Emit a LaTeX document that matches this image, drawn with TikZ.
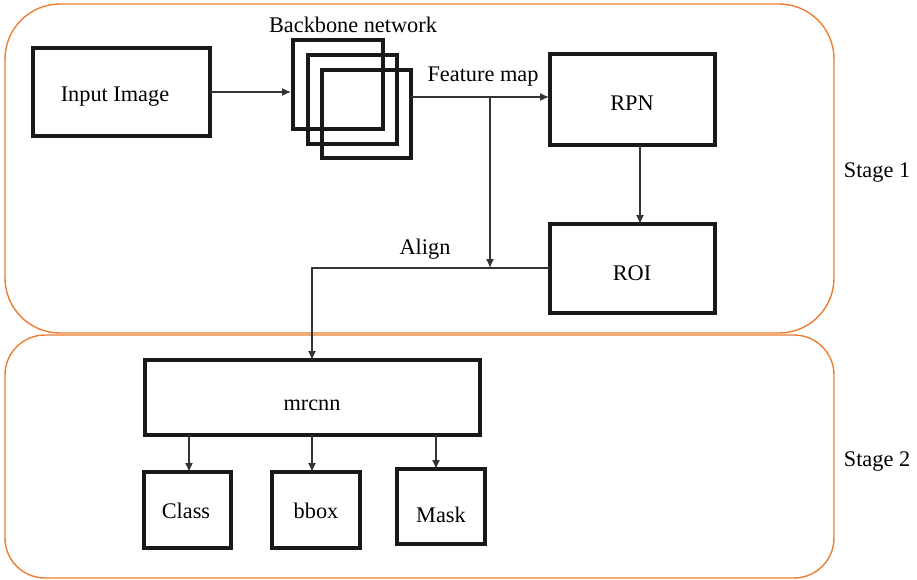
\documentclass[tikz,border=0pt]{standalone}
\usepackage{fontspec}
\setmainfont{Liberation Serif}
\usetikzlibrary{arrows.meta}
\begin{document}
\begin{tikzpicture}[x=1pt,y=-1pt,
  font=\fontsize{22.3}{25}\selectfont,
  stagebox/.style={line width=1.4pt},
  block/.style={draw=black!90, line width=3.1pt, inner sep=0pt},
  conn/.style={draw=black!80, line width=1.4pt},
  arr/.style={conn, -{Latex[length=9pt,width=8pt]}},
  lbl/.style={inner sep=0pt}]
\useasboundingbox (0,0) rectangle (917,580);
\definecolor{stageorange}{RGB}{237,125,49}
% stage frames
\draw[stagebox, draw=stageorange, rounded corners=55pt] (5,4) rectangle (834,333);
\draw[stagebox, draw=stageorange, rounded corners=40pt] (5,335) rectangle (834,578);
% input image
\draw[block] (33,48) rectangle (210,136);
\node[lbl] (inp) at (115,97) {Input Image};
\coordinate (inpE) at (210,92);
% backbone network: three stacked feature squares
\draw[block] (293,40) rectangle (383,129);
\draw[block] (308,55) rectangle (397,144);
\draw[block] (322,70) rectangle (411,158);
\coordinate (bbW) at (291,92);
\coordinate (bbE) at (411,97);
\node[lbl] at (353,25) {Backbone network};
% RPN and ROI
\draw[block] (550,54) rectangle (715,145);
\node[lbl] (rpn) at (632,103) {RPN};
\coordinate (rpnW) at (549,97);
\coordinate (rpnS) at (640,145);
\draw[block] (550,224) rectangle (715,313);
\node[lbl] (roi) at (632,273) {ROI};
\coordinate (roiN) at (640,224);
\coordinate (roiW) at (550,268);
% mrcnn head and outputs
\draw[block] (145,360) rectangle (480,435);
\node[lbl] (mrc) at (312,405) {mrcnn};
\coordinate (mrcN) at (312,360);
\draw[block] (144,472) rectangle (231,548);
\node[lbl] (cls) at (186,511) {Class};
\draw[block] (272,472) rectangle (360,548);
\node[lbl] (bbx) at (316,511) {bbox};
\draw[block] (397,469) rectangle (485,544);
\node[lbl] (msk) at (441,515) {Mask};
% labels
\node[lbl] at (483,77) {Feature map};
\node[lbl] at (425,249) {Align};
\node[lbl] at (877,173) {Stage 1};
\node[lbl] at (877,462) {Stage 2};
% connectors
\draw[arr] (inpE) -- (bbW);
\draw[arr] (bbE) -- (rpnW);
\coordinate (fmJ) at (490,97);
\draw[arr] (fmJ) -- (490,268);
\draw[arr] (rpnS) -- (roiN);
\draw[arr] (roiW) -- (312,268) -- (mrcN);
\draw[arr] (189,435) -- (189,472);
\draw[arr] (312,435) -- (312,472);
\draw[arr] (436,435) -- (436,469);
\end{tikzpicture}
\end{document}
